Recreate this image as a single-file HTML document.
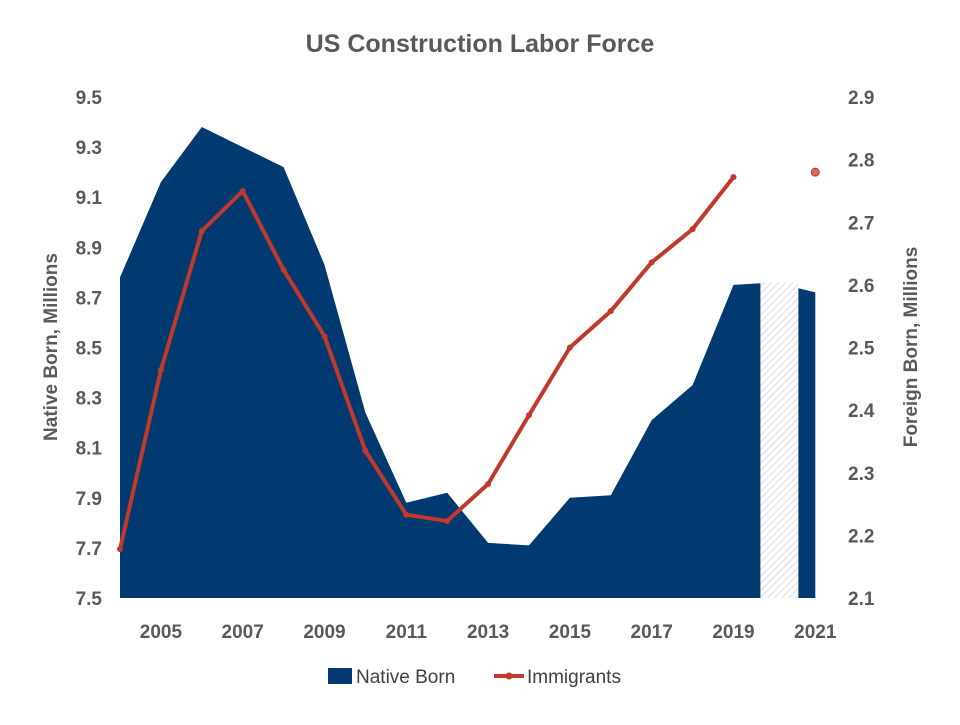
<!DOCTYPE html>
<html><head><meta charset="utf-8"><style>
body{margin:0;background:#fff;font-family:"Liberation Sans",sans-serif}
svg text{font-family:"Liberation Sans",sans-serif;fill:#595959;font-weight:bold}
</style></head><body>
<svg id="chart" width="960" height="720">
<defs><pattern id="hatch" width="5" height="5" patternUnits="userSpaceOnUse" patternTransform="rotate(45)"><rect width="5" height="5" fill="#fff"/><line x1="0" y1="0" x2="0" y2="5" stroke="#d0d0d0" stroke-width="1.5"/></pattern></defs>
<text x="480" y="52" text-anchor="middle" font-size="25">US Construction Labor Force</text>
<text transform="translate(57,347) rotate(-90)" text-anchor="middle" font-size="19">Native Born, Millions</text>
<text transform="translate(917,347) rotate(-90)" text-anchor="middle" font-size="19">Foreign Born, Millions</text>
<g id="plot"></g>
<g>
<rect x="328" y="668" width="24" height="16" fill="#003a70"/>
<text x="356" y="683" font-size="19" font-weight="normal" style="font-weight:normal;fill:#404040">Native Born</text>
<line x1="494" y1="676" x2="524" y2="676" stroke="#c0392b" stroke-width="4"/>
<circle cx="509" cy="676" r="3.5" fill="#c0392b"/>
<text x="527" y="683" font-size="19" style="font-weight:normal;fill:#404040">Immigrants</text>
</g>
</svg>
<script>
const years=[2004,2005,2006,2007,2008,2009,2010,2011,2012,2013,2014,2015,2016,2017,2018,2019,2020,2021];
const nativeBorn=[8.78,9.16,9.38,9.30,9.22,8.83,8.24,7.88,7.92,7.72,7.71,7.90,7.91,8.21,8.35,8.75,8.76,8.72];
const immigrants=[2.178,2.464,2.686,2.75,2.624,2.518,2.335,2.233,2.223,2.282,2.392,2.50,2.558,2.636,2.689,2.772,null,2.78];
const leftTicks=[7.5,7.7,7.9,8.1,8.3,8.5,8.7,8.9,9.1,9.3,9.5];
const rightTicks=[2.1,2.2,2.3,2.4,2.5,2.6,2.7,2.8,2.9];
const xLabels=[2005,2007,2009,2011,2013,2015,2017,2019,2021];
const hatchYear=2020;
const NS="http://www.w3.org/2000/svg";
const g=document.getElementById('plot');
const x=yr=>120+(yr-2004)*40.9;
const yL=v=>598-(v-7.5)*250.5;
const yR=v=>598-(v-2.1)*626.25;
function mk(t,a){const e=document.createElementNS(NS,t);for(const k in a)e.setAttribute(k,a[k]);g.appendChild(e);return e;}
let d='M'+x(years[0])+','+yL(7.5);
years.forEach((yr,i)=>{d+=' L'+x(yr)+','+yL(nativeBorn[i]);});
d+=' L'+x(years[years.length-1])+','+yL(7.5)+' Z';
const area=mk('path',{d:d,fill:'#003a70'});


const hi=years.indexOf(hatchYear);
const hr=mk('rect',{x:x(hatchYear)-14,y:yL(nativeBorn[hi]),width:38,height:yL(7.5)-yL(nativeBorn[hi]),fill:'url(#hatch)'});


let segs=[],cur=[];
years.forEach((yr,i)=>{if(immigrants[i]==null){if(cur.length)segs.push(cur);cur=[];}else cur.push([x(yr),yR(immigrants[i])]);});
if(cur.length)segs.push(cur);
segs.forEach(s=>{
 if(s.length>1){const p=mk('polyline',{points:s.map(q=>q.join(',')).join(' '),fill:'none',stroke:'#c0392b','stroke-width':4,'stroke-linejoin':'round'});
 
 }
 s.forEach(q=>{const c=mk('circle',{cx:q[0],cy:q[1],r:s.length>1?3:4,fill:s.length>1?'#c0392b':'#e06666',stroke:s.length>1?'none':'#c0392b'});
 
 });
});
leftTicks.forEach(v=>{const t=mk('text',{x:102,y:yL(v)+7,'text-anchor':'end','font-size':19});t.textContent=v.toFixed(1);

});
rightTicks.forEach(v=>{const t=mk('text',{x:848,y:yR(v)+7,'font-size':19});t.textContent=v.toFixed(1);

});
xLabels.forEach(v=>{const t=mk('text',{x:x(v),y:638,'text-anchor':'middle','font-size':19});t.textContent=v;

});
</script>
</body></html>
